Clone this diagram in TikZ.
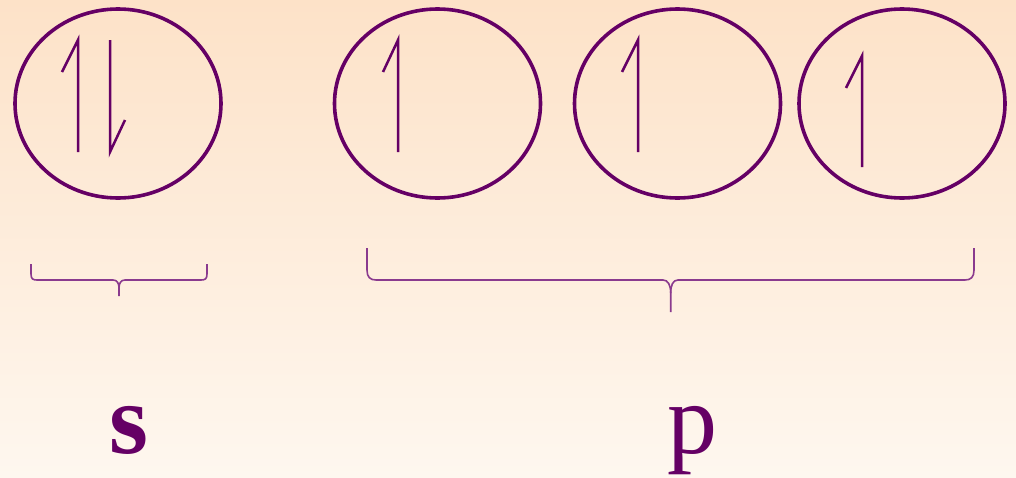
\documentclass[tikz,border=0pt]{standalone}
\usepackage{fontspec}
\setmainfont{Liberation Serif}
\usetikzlibrary{shapes.geometric}
\definecolor{purp}{HTML}{650065}
\definecolor{bracec}{HTML}{8A3A8E}
\definecolor{bgtop}{HTML}{FDE2C8}
\definecolor{bgbot}{HTML}{FEF7EF}
\begin{document}
\begin{tikzpicture}[x=1pt,y=-1pt,
  orb/.style={draw=purp,line width=3.6pt,ellipse,inner sep=0pt,minimum width=206pt,minimum height=189pt},
  spin/.style={draw=purp,line width=2.5pt},
  brc/.style={draw=bracec,line width=1.6pt},
  lbl/.style={text=purp,font=\fontsize{100}{110}\selectfont,inner sep=0pt,anchor=base}]
\useasboundingbox (0,0) rectangle (1016,477);
\shade[top color=bgtop,bottom color=bgbot] (0,0) rectangle (1016,477);
% orbitals
\node[orb] (s1) at (118,103.5) {};
\node[orb] (p1) at (437.5,103.5) {};
\node[orb] (p2) at (677.5,103.5) {};
\node[orb] (p3) at (902,103.5) {};
% spins
\draw[spin] (62,72) -- (78,40) -- (78,152);
\draw[spin] (110,40) -- (110,152) -- (125,120);
\draw[spin] (383,72) -- (398,40) -- (398,152);
\draw[spin] (622,72) -- (638,40) -- (638,152);
\draw[spin] (846,88) -- (862,56) -- (862,167);
% braces
\draw[brc] (31,264) -- (31,274) .. controls (31,279) and (33,280) .. (37,280) -- (113,280)
  .. controls (117,280) and (119,283) .. (119,288) -- (119,296);
\draw[brc] (119,288) .. controls (119,283) and (121,280) .. (125,280) -- (201,280)
  .. controls (205,280) and (207,279) .. (207,274) -- (207,264);
\draw[brc] (367,248) -- (367,270) .. controls (367,277) and (370,280) .. (376,280) -- (663,280)
  .. controls (668,280) and (670.7,285) .. (670.7,293) -- (670.7,312);
\draw[brc] (670.7,293) .. controls (670.7,285) and (673,280) .. (678,280) -- (965,280)
  .. controls (971,280) and (974,277) .. (974,270) -- (974,248);
% labels
\node[lbl] (ls) at (129,453) {\textbf{s}};
\node[lbl] (lp) at (692,453) {p};
\end{tikzpicture}
\end{document}
